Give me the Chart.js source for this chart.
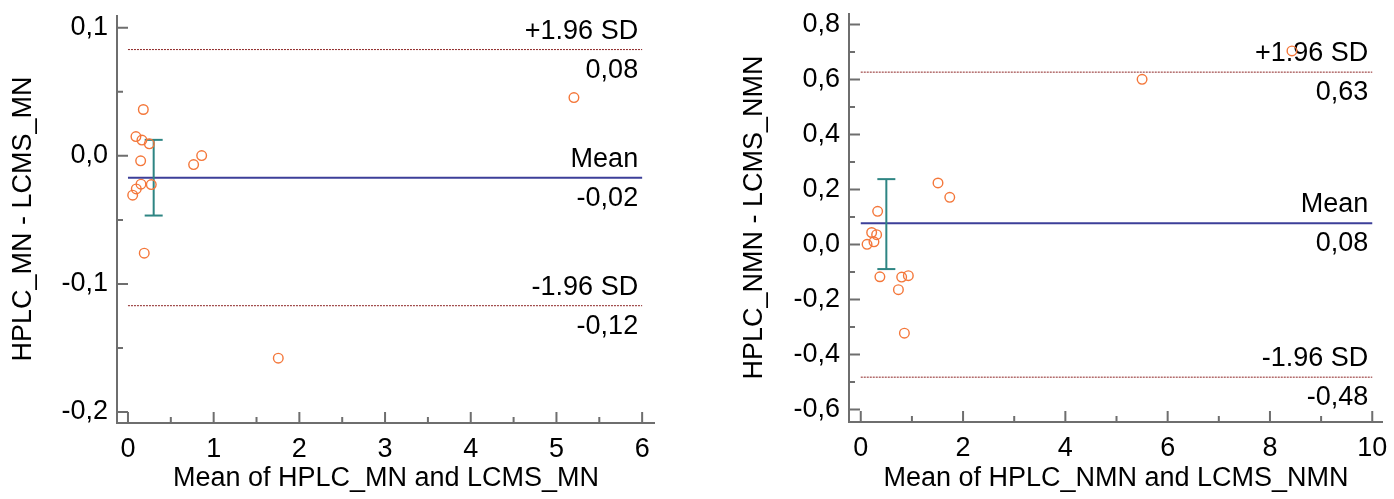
<!DOCTYPE html>
<html>
<head>
<meta charset="utf-8">
<script src="https://cdn.jsdelivr.net/npm/chart.js@4/dist/chart.umd.min.js"></script>
<style>
  html, body { margin: 0; padding: 0; background: #fff; }
  #wrap { position: relative; width: 1394px; height: 499px; overflow: hidden; }
  #mn { position: absolute; left: 0; top: 0; }
  #nmn { position: absolute; left: 700px; top: 0; }
</style>
</head>
<body>
<div id="wrap">
  <canvas id="mn" width="700" height="499"></canvas>
  <canvas id="nmn" width="694" height="499"></canvas>
</div>
<script>
// ---- MN: Bland-Altman, HPLC vs LCMS ----
const mnMean = [0.179, 0.093, 0.163, 0.249, 0.148, 0.860, 0.766, 0.152, 0.272, 0.097, 0.055, 0.190, 1.754, 5.204];
const mnDiff = [0.0362, 0.0151, 0.0123, 0.0094, -0.0039, 0.0002, -0.0068, -0.0221, -0.0224, -0.0258, -0.0307, -0.0760, -0.1580, 0.0455];
const mnLimits = [0.083, -0.017, -0.117];      // +1.96 SD, mean, -1.96 SD
const mnCI = [0.0125, -0.0466];                // 95% CI of the mean difference
const mnCIx = [0.30];
const mnXTicks = [0, 1, 2, 3, 4, 5, 6];
const mnXMinor = [0.5, 1.5, 2.5, 3.5, 4.5, 5.5];
const mnYTicks = [-0.2, -0.1, 0, 0.1];
const mnYMinor = [-0.15, -0.05, 0.05];

// ---- NMN: Bland-Altman, HPLC vs LCMS ----
const nmnMean = [1.51, 1.74, 0.33, 0.213, 0.31, 0.258, 0.123, 0.374, 0.80, 0.93, 0.736, 0.853, 5.50, 8.43];
const nmnDiff = [0.224, 0.172, 0.121, 0.044, 0.036, 0.010, 0.001, -0.117, -0.118, -0.113, -0.164, -0.322, 0.601, 0.704];
const nmnLimits = [0.627, 0.078, -0.482];
const nmnCI = [0.238, -0.089];
const nmnCIx = [0.50];
const nmnXTicks = [0, 2, 4, 6, 8, 10];
const nmnXMinor = [1, 3, 5, 7, 9];
const nmnYTicks = [-0.6, -0.4, -0.2, 0, 0.2, 0.4, 0.6, 0.8];
const nmnYMinor = [-0.5, -0.3, -0.1, 0.1, 0.3, 0.5, 0.7];

const limitNames = ['+1.96 SD', 'Mean', '-1.96 SD'];

const FONT = "'Liberation Sans', Arial, sans-serif";
const FSIZE = 27;
const AXIS_GREY = '#6e6e6e';
const POINT_ORANGE = '#f4773a';
const MEAN_BLUE = '#3c3f99';
const SD_RED = '#8c2424';
const CI_TEAL = '#2e8583';

const comma = (v, d) => v.toFixed(d).replace('.', ',');

function framePlugin(c) {
  return {
    id: 'frame',
    beforeDatasetsDraw(chart) {
      const { ctx, chartArea: a, scales: { x, y } } = chart;
      ctx.save();
      ctx.strokeStyle = AXIS_GREY;
      ctx.lineWidth = 2;
      ctx.beginPath();
      ctx.moveTo(a.left, a.top);
      ctx.lineTo(a.left, a.bottom);
      ctx.lineTo(a.right, a.bottom);
      ctx.stroke();
      // inward tick marks
      ctx.beginPath();
      c.xTicks.forEach(v => { const p = x.getPixelForValue(v); ctx.moveTo(p, a.bottom); ctx.lineTo(p, a.bottom - 11); });
      c.xMinor.forEach(v => { const p = x.getPixelForValue(v); ctx.moveTo(p, a.bottom); ctx.lineTo(p, a.bottom - 6); });
      c.yTicks.forEach(v => { const p = y.getPixelForValue(v); ctx.moveTo(a.left, p); ctx.lineTo(a.left + 11, p); });
      c.yMinor.forEach(v => { const p = y.getPixelForValue(v); ctx.moveTo(a.left, p); ctx.lineTo(a.left + 6, p); });
      ctx.stroke();

      // captions for the mean and limits of agreement
      const xr = x.getPixelForValue(c.xTicks[c.xTicks.length - 1]) - 4;
      ctx.fillStyle = '#000';
      ctx.font = FSIZE + 'px ' + FONT;
      ctx.textAlign = 'right';
      ctx.textBaseline = 'alphabetic';
      c.limits.forEach((v, i) => {
        const p = y.getPixelForValue(v);
        ctx.fillText(limitNames[i], xr, p - 11);
        ctx.fillText(comma(v, 2), xr, p + 28);
      });
      ctx.restore();
    }
  };
}

function makeChart(id, c) {
  const xEnd = c.xTicks[c.xTicks.length - 1];
  const hline = (v, color, width, dash, order) => ({
    type: 'line',
    data: [{ x: 0, y: v }, { x: xEnd, y: v }],
    borderColor: color, borderWidth: width, borderDash: dash,
    pointRadius: 0, order
  });
  new Chart(document.getElementById(id), {
    type: 'scatter',
    data: {
      datasets: [
        {
          type: 'scatter',
          data: c.mean.map((m, i) => ({ x: m, y: c.diff[i] })),
          pointStyle: 'circle', pointRadius: 4.8,
          borderColor: POINT_ORANGE, backgroundColor: 'rgba(255,255,255,0)', borderWidth: 1.4,
          order: 0
        },
        {
          type: 'line',
          data: c.ci.map(v => ({ x: c.ciX[0], y: v })),
          borderColor: CI_TEAL, borderWidth: 2,
          pointStyle: 'line', pointRadius: 9, pointBorderColor: CI_TEAL, pointBorderWidth: 2,
          order: 1
        },
        hline(c.limits[1], MEAN_BLUE, 2, [], 2),
        hline(c.limits[0], SD_RED, 1, [2, 1], 3),
        hline(c.limits[2], SD_RED, 1, [2, 1], 3)
      ]
    },
    options: {
      responsive: false,
      devicePixelRatio: 1,
      animation: false,
      events: [],
      layout: { padding: c.pad },
      plugins: { legend: { display: false }, tooltip: { enabled: false } },
      scales: {
        x: {
          type: 'linear', min: c.xMin, max: c.xMax,
          grid: { display: false, drawTicks: false }, border: { display: false },
          ticks: { font: { family: FONT, size: FSIZE }, color: '#000', padding: 10, callback: v => String(v) },
          afterBuildTicks: s => { s.ticks = c.xTicks.map(v => ({ value: v })); },
          afterFit: s => { s.height = c.xHeight; s.paddingLeft = 0; s.paddingRight = 0; },
          title: { display: true, text: c.xTitle, color: '#000', font: { family: FONT, size: FSIZE }, padding: { top: 0, bottom: 4 } }
        },
        y: {
          type: 'linear', min: c.yMin, max: c.yMax,
          grid: { display: false, drawTicks: false }, border: { display: false },
          ticks: { font: { family: FONT, size: FSIZE }, color: '#000', padding: 9, callback: v => comma(v, 1) },
          afterBuildTicks: s => { s.ticks = c.yTicks.map(v => ({ value: v })); },
          afterFit: s => { s.width = c.yWidth; s.paddingTop = 0; s.paddingBottom = 0; },
          title: { display: true, text: c.yTitle, color: '#000', font: { family: FONT, size: FSIZE }, padding: { top: c.yTitlePad, bottom: 0 } }
        }
      }
    },
    plugins: [framePlugin(c)]
  });
}

makeChart('mn', {
  mean: mnMean, diff: mnDiff, limits: mnLimits, ci: mnCI, ciX: mnCIx,
  xTicks: mnXTicks, xMinor: mnXMinor, yTicks: mnYTicks, yMinor: mnYMinor,
  xMin: -0.128, xMax: 6.15, yMin: -0.2086, yMax: 0.110,
  pad: { left: 0, top: 15, right: 45, bottom: 0 },
  xHeight: 76, yWidth: 117, yTitlePad: 7,
  xTitle: 'Mean of HPLC_MN and LCMS_MN', yTitle: 'HPLC_MN - LCMS_MN'
});

makeChart('nmn', {
  mean: nmnMean, diff: nmnDiff, limits: nmnLimits, ci: nmnCI, ciX: nmnCIx,
  xTicks: nmnXTicks, xMinor: nmnXMinor, yTicks: nmnYTicks, yMinor: nmnYMinor,
  xMin: -0.23, xMax: 10.21, yMin: -0.645, yMax: 0.842,
  pad: { left: 0, top: 13, right: 6, bottom: 0 },
  xHeight: 77, yWidth: 149, yTitlePad: 38,
  xTitle: 'Mean of HPLC_NMN and LCMS_NMN', yTitle: 'HPLC_NMN - LCMS_NMN'
});
</script>
</body>
</html>
